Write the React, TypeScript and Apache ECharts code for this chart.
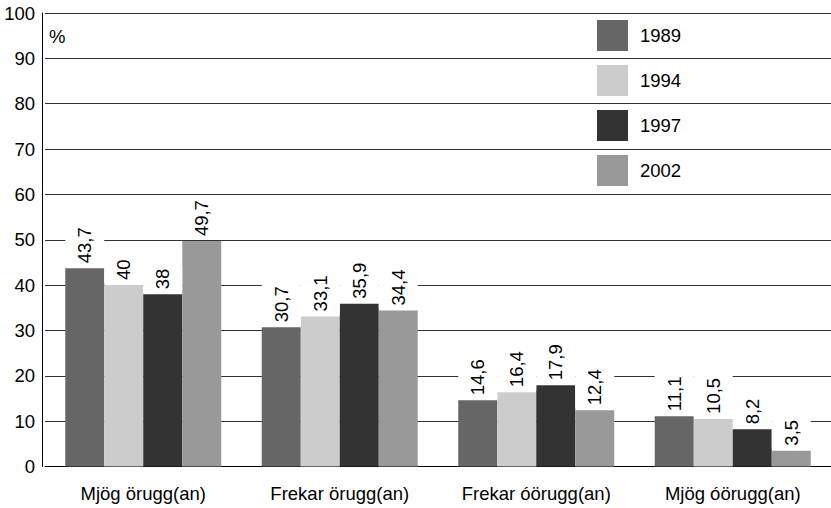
import React, { useEffect, useRef } from "react";
import * as echarts from "echarts";

const categories = ["Mjög örugg(an)", "Frekar örugg(an)", "Frekar óörugg(an)", "Mjög óörugg(an)"];
const years = ["1989", "1994", "1997", "2002"];
const values1989 = [43.7, 30.7, 14.6, 11.1];
const values1994 = [40, 33.1, 16.4, 10.5];
const values1997 = [38, 35.9, 17.9, 8.2];
const values2002 = [49.7, 34.4, 12.4, 3.5];
const colors = ["#666666", "#cccccc", "#333333", "#999999"];
const yTicks = [0, 10, 20, 30, 40, 50, 60, 70, 80, 90, 100];

const FONT = "'Liberation Sans', Arial, sans-serif";
const FS = 18.5;

export default function App() {
  const ref = useRef<HTMLDivElement>(null);
  useEffect(() => {
    document.body.style.margin = "0";
    const chart = echarts.init(ref.current!, undefined, { renderer: "svg" });
    const seriesData = [values1989, values1994, values1997, values2002];
    chart.setOption({
      animation: false,
      backgroundColor: "#ffffff",
      textStyle: { fontFamily: FONT },
      grid: { left: 45, top: 13, width: 791, height: 453.5, containLabel: false },
      legend: {
        orient: "vertical",
        left: 597,
        top: 20,
        padding: 0,
        itemWidth: 31,
        itemHeight: 31,
        itemGap: 14,
        icon: "rect",
        data: years,
        textStyle: { fontSize: FS, color: "#000", fontFamily: FONT, padding: [4, 0, 0, 7] },
      },
      graphic: [
        {
          type: "text",
          left: 49,
          top: 27,
          style: { text: "%", fontSize: FS, fill: "#000", fontFamily: FONT },
        },
      ],
      xAxis: {
        type: "category",
        data: categories,
        axisLine: { lineStyle: { color: "#000", width: 1 } },
        axisTick: { show: false },
        axisLabel: { fontSize: FS, color: "#000", margin: 17, fontFamily: FONT },
      },
      yAxis: {
        type: "value",
        min: 0,
        max: 100,
        interval: 10,
        offset: 3,
        axisLine: { show: true, lineStyle: { color: "#000", width: 1 } },
        axisTick: { show: false },
        axisLabel: {
          fontSize: FS,
          color: "#000",
          margin: 7,
          fontFamily: FONT,
          formatter: (v: number) => (yTicks.includes(v) ? String(v) : ""),
        },
        splitLine: { show: true, lineStyle: { color: "#333", width: 1 } },
      },
      series: years.map((y, i) => ({
        name: y,
        type: "bar",
        data: seriesData[i],
        barWidth: 39,
        barGap: "0%",
        itemStyle: { color: colors[i] },
        label: {
          show: true,
          position: "top",
          rotate: 90,
          align: "left",
          verticalAlign: "middle",
          distance: 2,
          fontSize: FS,
          lineHeight: 20,
          color: "#000",
          fontFamily: FONT,
          backgroundColor: "#ffffff",
          padding: [9.5, 2, 9.5, 3],
          formatter: (p: any) => String(p.value).replace(".", ","),
        },
      })),
    });
    return () => chart.dispose();
  }, []);
  return <div ref={ref} style={{ width: 831, height: 508 }} />;
}
